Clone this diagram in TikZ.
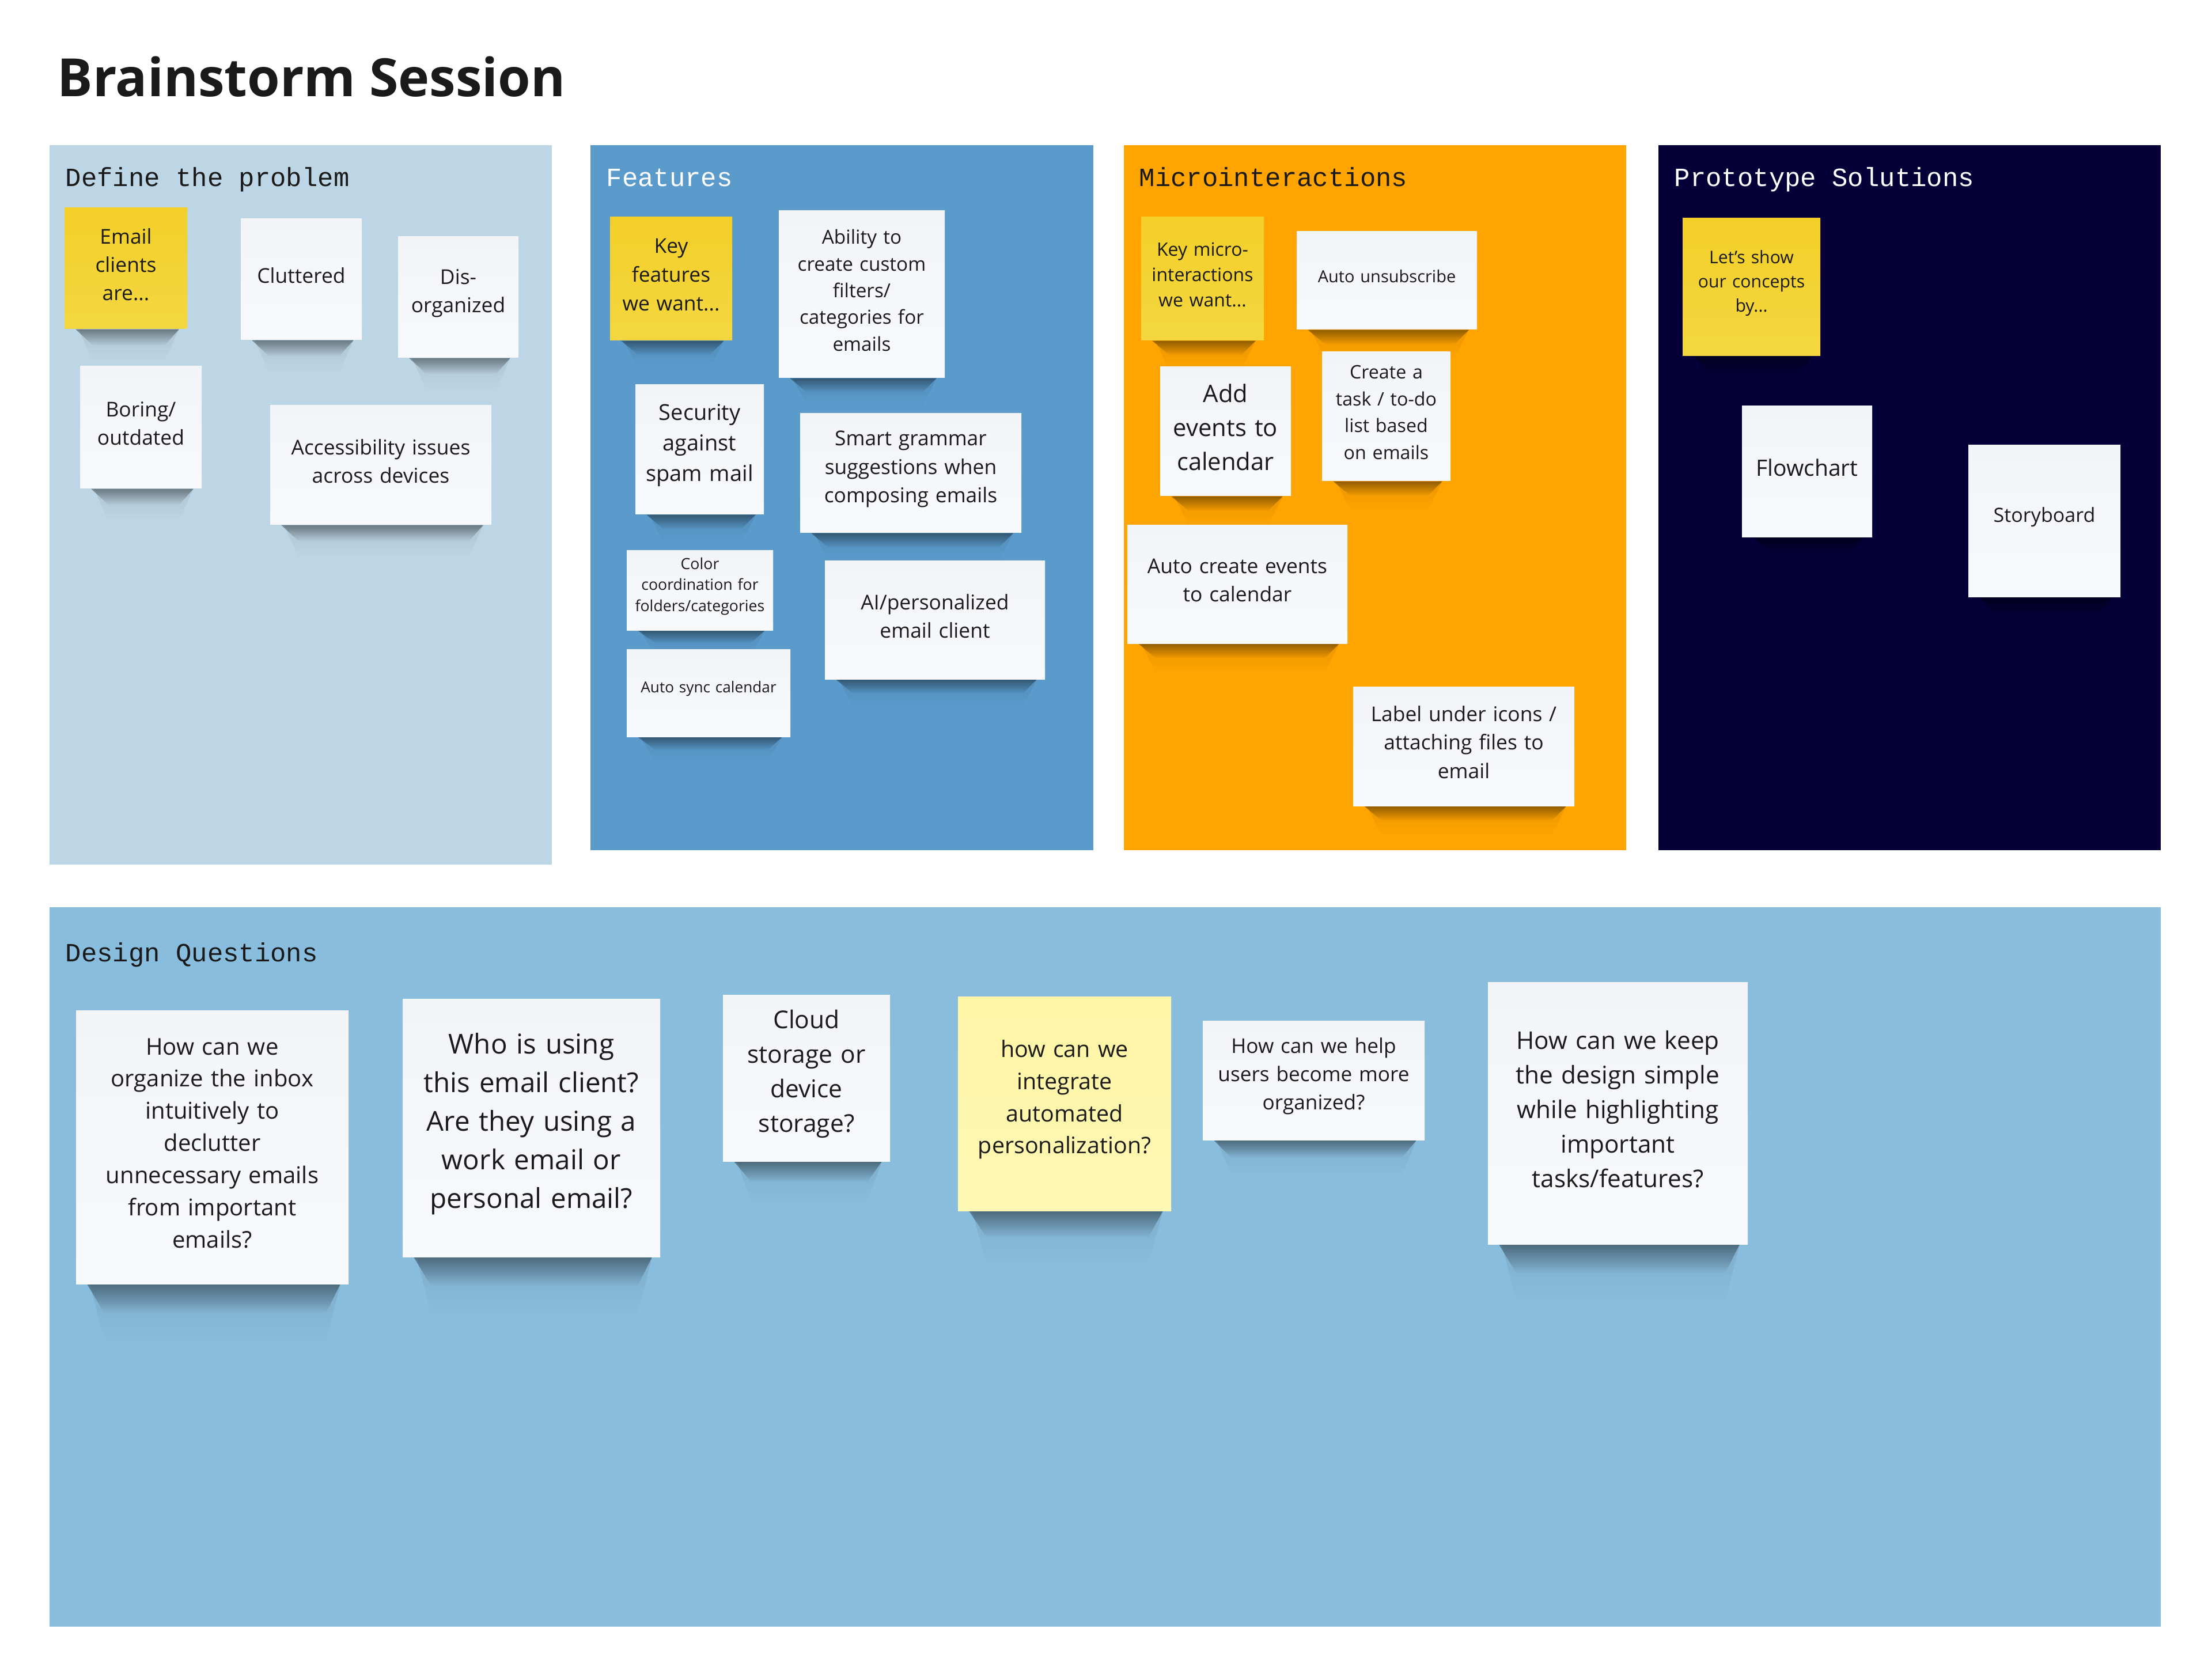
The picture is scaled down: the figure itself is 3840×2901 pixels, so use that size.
\documentclass[tikz,border=0pt]{standalone}
\usepackage{fontspec}
\setmainfont{Open Sans}
\newfontfamily\labelmono{Liberation Mono}
\usetikzlibrary{fadings}

\newdimen\pxu
\pxu=0.28453pt

\definecolor{inkdark}{HTML}{1A1A1A}
\definecolor{definebg}{HTML}{BDD6E6}
\definecolor{featurebg}{HTML}{5B9BCC}
\definecolor{microbg}{HTML}{FFA400}
\definecolor{protobg}{HTML}{050038}
\definecolor{designbg}{HTML}{89BDDD}
\definecolor{notetop}{HTML}{F2F4F7}
\definecolor{notebot}{HTML}{F7F9FC}
\definecolor{keytop}{HTML}{F3CF28}
\definecolor{keybot}{HTML}{F4D740}
\definecolor{softtop}{HTML}{FFF5A6}
\definecolor{softbot}{HTML}{FFF7B4}

\tikzfading[name=dropfade, top color=transparent!62, bottom color=transparent!100]
\tikzfading[name=hazefade, top color=transparent!92, bottom color=transparent!100]

\begin{document}
\begin{tikzpicture}[
    x=0.01cm, y=-0.01cm,
    fs/.style 2 args={font=\fontsize{#1\pxu}{#2\pxu}\selectfont},
    panel/.style n args={3}{rectangle, inner sep=0pt, fill=#3, minimum width=#1*0.01cm, minimum height=#2*0.01cm},
    paneltitle/.style={anchor=base west, inner sep=0pt, font=\fontsize{45.6\pxu}{55\pxu}\selectfont\labelmono},
    note/.style n args={3}{rectangle, inner sep=0pt, align=center, text=inkdark,
        top color=notetop, bottom color=notebot,
        minimum width=#1*0.01cm, minimum height=#2*0.01cm, text width=#1*0.01cm-0.04cm,
        execute at end node={\endgraf\vspace{0.14cm}},
        append after command={\pgfextra{
            \fill[black, path fading=hazefade]
                ([xshift=0.25cm]\tikzlastnode.south west) -- ([xshift=-0.15cm]\tikzlastnode.south east)
                -- ([xshift=-0.4cm,yshift=-#3*0.02cm]\tikzlastnode.south east)
                -- ([xshift=0.5cm,yshift=-#3*0.02cm]\tikzlastnode.south west) -- cycle;
            \fill[black, path fading=dropfade]
                ([xshift=0.2cm]\tikzlastnode.south west) -- ([xshift=-0.15cm]\tikzlastnode.south east)
                -- ([xshift=-0.4cm,yshift=-#3*0.01cm]\tikzlastnode.south east)
                -- ([xshift=0.5cm,yshift=-#3*0.01cm]\tikzlastnode.south west) -- cycle;
        }}},
    keynote/.style={top color=keytop, bottom color=keybot},
    softnote/.style={top color=softtop, bottom color=softbot}
]
\useasboundingbox (0,0) rectangle (3840,2901);

% Title
\node[anchor=base west, inner sep=0pt, text=inkdark, font=\fontsize{91.5\pxu}{100\pxu}\selectfont\bfseries] (title) at (99,168) {Brainstorm Session};

% Panels
\node[panel={872}{1249}{definebg}] (define_panel) at (522,876.5) {};
\node[panel={873}{1224}{featurebg}] (feature_panel) at (1461.5,864) {};
\node[panel={872}{1224}{microbg}] (micro_panel) at (2387,864) {};
\node[panel={872}{1224}{protobg}] (proto_panel) at (3315,864) {};
\node[panel={3665}{1249}{designbg}] (design_panel) at (1918.5,2199.5) {};

% Panel titles
\node[paneltitle, text=inkdark] (define_title) at (113,324) {Define the problem};
\node[paneltitle, text=white] (feature_title) at (1052,324) {Features};
\node[paneltitle, text=inkdark] (micro_title) at (1977,324) {Microinteractions};
\node[paneltitle, text=white] (proto_title) at (2906,324) {Prototype Solutions};
\node[paneltitle, text=inkdark] (design_title) at (113,1669) {Design Questions};

% Define the problem
\node[note={213}{210}{28}, keynote, fs={35.4}{49}] (email_clients) at (218.5,466) {Email\\clients\\are...};
\node[note={210}{210}{28}, fs={35.4}{49}] (cluttered) at (523,485) {Cluttered};
\node[note={209}{210}{28}, fs={35.4}{49}] (disorganized) at (795.5,516) {Dis-\\organized};
\node[note={211}{212}{28}, fs={35.4}{49}] (boring) at (244.5,742) {Boring/\\outdated};
\node[note={384}{207}{28}, fs={35.4}{49}] (accessibility) at (661,807.5) {Accessibility issues\\across devices};

% Features
\node[note={212}{214}{25}, keynote, fs={35.4}{50}] (key_features) at (1165,484) {Key\\features\\we want...};
\node[note={288}{290}{25}, fs={33.3}{46.4}] (custom_filters) at (1496,511) {Ability to\\create custom\\filters/\\categories for\\emails};
\node[note={223}{225}{25}, fs={38}{53}] (security) at (1214.5,780.5) {Security\\against\\spam mail};
\node[note={384}{207}{25}, fs={35.4}{49.5}] (grammar) at (1581,821.5) {Smart grammar\\suggestions when\\composing emails};
\node[note={254}{138}{22}, fs={26.7}{36.5}] (color_coord) at (1215,1025) {Color\\coordination for\\folders/categories};
\node[note={284}{152}{22}, fs={26.2}{36}] (sync_calendar) at (1230,1203) {Auto sync calendar};
\node[note={382}{205}{25}, fs={35.4}{49.5}] (ai_client) at (1623,1076.5) {AI/personalized\\email client};

% Microinteractions
\node[note={213}{214}{25}, keynote, fs={32}{44}] (key_micro) at (2087.5,484) {Key micro-\\interactions\\we want...};
\node[note={313}{170}{25}, fs={29}{40}] (unsubscribe) at (2407.5,487) {Auto unsubscribe};
\node[note={227}{224}{25}, fs={41.8}{59}] (add_events) at (2127.5,749) {Add\\events to\\calendar};
\node[note={223}{224}{25}, fs={32.2}{46.4}] (todo_list) at (2406.5,723) {Create a\\task / to-do\\list based\\on emails};
\node[note={382}{205}{25}, fs={35.4}{49.5}] (auto_events) at (2148,1014.5) {Auto create events\\to calendar};
\node[note={384}{207}{25}, fs={35.4}{49.5}] (label_icons) at (2541,1295.5) {Label under icons /\\attaching files to\\email};

% Prototype Solutions
\node[note={239}{239}{30}, keynote, fs={30.2}{42}] (show_concepts) at (3040.5,498.5) {Let's show\\our concepts\\by...};
\node[note={226}{228}{25}, fs={39}{53}] (flowchart) at (3137,819) {Flowchart};
\node[note={264}{264}{30}, fs={34}{46}] (storyboard) at (3549,905) {Storyboard};

% Design Questions
\node[note={473}{475}{50}, fs={40}{55.8}] (organize_inbox) at (368.5,1991.5) {How can we\\organize the inbox\\intuitively to\\declutter\\unnecessary emails\\from important\\emails?};
\node[note={447}{448}{50}, fs={47.5}{67}] (who_using) at (922.5,1958) {Who is using\\this email client?\\Are they using a\\work email or\\personal email?};
\node[note={290}{289}{35}, fs={42.5}{60}] (cloud_storage) at (1400,1871.5) {Cloud\\storage or\\device\\storage?};
\node[note={370}{372}{45}, softnote, fs={39.4}{55.5}] (personalization) at (1848,1916) {how can we\\integrate\\automated\\personalization?};
\node[note={385}{207}{30}, fs={35.2}{49}] (help_users) at (2280.5,1875.5) {How can we help\\users become more\\organized?};
\node[note={451}{455}{50}, fs={42.3}{60}] (keep_simple) at (2808.5,1932.5) {How can we keep\\the design simple\\while highlighting\\important\\tasks/features?};

\end{tikzpicture}
\end{document}
